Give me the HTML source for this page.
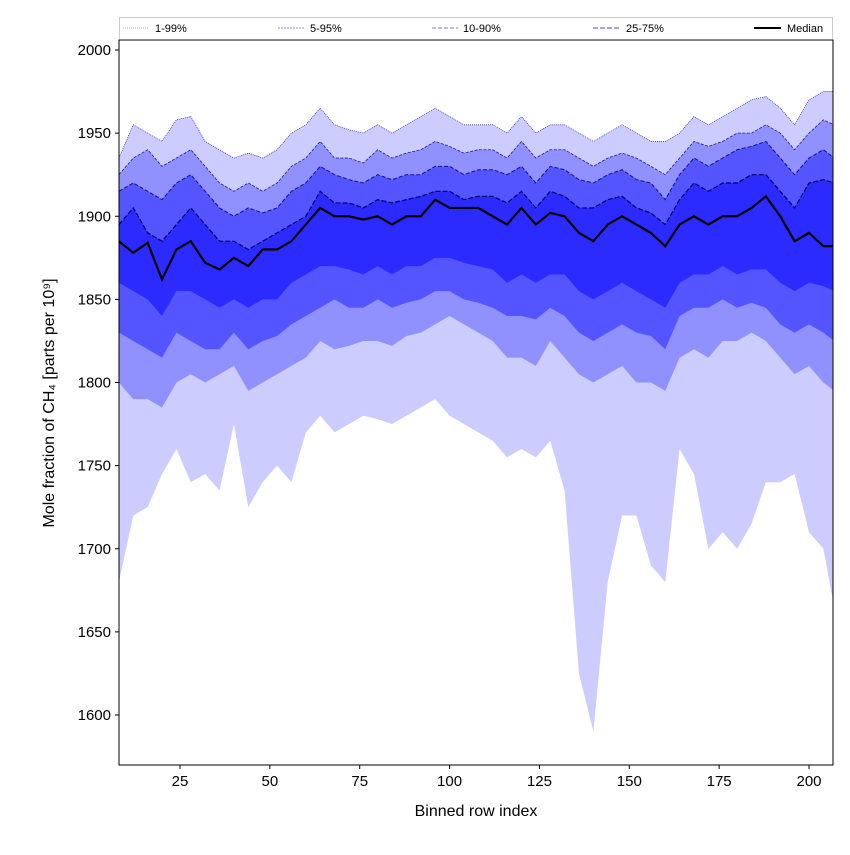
<!DOCTYPE html>
<html><head><meta charset="utf-8"><style>
body{margin:0;background:#fff;font-family:"Liberation Sans","DejaVu Sans",sans-serif}
</style></head><body>
<svg id="chart" width="850" height="850" xmlns="http://www.w3.org/2000/svg" font-family="Liberation Sans, DejaVu Sans, sans-serif">
<g id="plot"></g>
</svg>
<script>
const xs=[8,12,16,20,24,28,32,36,40,44,48,52,56,60,64,68,72,76,80,84,88,92,96,100,104,108,112,116,120,124,128,132,136,140,144,148,152,156,160,164,168,172,176,180,184,188,192,196,200,204,207];
const p99=[1935,1955,1950,1945,1958,1960,1945,1940,1935,1938,1935,1940,1950,1955,1965,1955,1952,1950,1955,1950,1955,1960,1965,1960,1955,1955,1955,1950,1960,1950,1955,1955,1950,1945,1950,1955,1950,1945,1945,1950,1960,1955,1960,1965,1970,1972,1965,1955,1970,1975,1975];
const p95=[1925,1935,1940,1930,1935,1940,1930,1920,1915,1920,1915,1920,1930,1935,1945,1935,1935,1932,1940,1935,1938,1940,1945,1942,1938,1940,1940,1935,1945,1935,1940,1940,1935,1930,1935,1938,1935,1930,1925,1935,1945,1942,1945,1950,1950,1955,1950,1940,1950,1958,1955];
const p90=[1915,1920,1915,1910,1920,1925,1915,1905,1900,1905,1902,1905,1915,1920,1930,1925,1922,1920,1925,1922,1925,1925,1930,1930,1925,1928,1928,1925,1930,1920,1930,1928,1922,1920,1925,1928,1922,1920,1910,1925,1935,1930,1935,1940,1942,1945,1935,1925,1935,1940,1935];
const p75=[1895,1905,1890,1885,1895,1905,1895,1885,1885,1880,1885,1890,1895,1900,1915,1908,1908,1905,1910,1908,1910,1912,1915,1915,1910,1912,1912,1908,1915,1905,1915,1912,1905,1905,1910,1912,1905,1902,1895,1910,1920,1915,1920,1920,1925,1925,1915,1905,1920,1922,1920];
const p50=[1885,1878,1884,1862,1880,1885,1872,1868,1875,1870,1880,1880,1885,1895,1905,1900,1900,1898,1900,1895,1900,1900,1910,1905,1905,1905,1900,1895,1905,1895,1902,1900,1890,1885,1895,1900,1895,1890,1882,1895,1900,1895,1900,1900,1905,1912,1900,1885,1890,1882,1882];
const p25=[1860,1855,1850,1840,1855,1855,1850,1845,1850,1845,1850,1850,1860,1865,1870,1870,1868,1865,1870,1865,1870,1870,1875,1875,1872,1870,1868,1860,1865,1860,1865,1865,1855,1850,1855,1860,1855,1850,1845,1860,1865,1865,1870,1865,1868,1868,1860,1855,1860,1858,1855];
const p10=[1830,1825,1820,1815,1830,1825,1820,1820,1830,1820,1825,1828,1835,1840,1845,1850,1845,1845,1850,1845,1848,1850,1855,1855,1850,1848,1845,1840,1840,1838,1845,1840,1830,1825,1830,1835,1830,1828,1820,1840,1845,1845,1850,1845,1848,1845,1835,1830,1835,1830,1825];
const p5=[1800,1790,1790,1785,1800,1805,1800,1805,1810,1795,1800,1805,1810,1815,1825,1820,1822,1825,1825,1822,1828,1830,1835,1840,1835,1830,1825,1815,1815,1810,1825,1815,1805,1800,1805,1810,1800,1800,1795,1815,1820,1815,1825,1825,1830,1825,1815,1805,1810,1800,1795];
const p1=[1680,1720,1725,1745,1760,1740,1745,1735,1775,1725,1740,1750,1740,1770,1780,1770,1775,1780,1778,1775,1780,1785,1790,1780,1775,1770,1765,1755,1760,1755,1765,1735,1625,1590,1680,1720,1720,1690,1680,1760,1745,1700,1710,1700,1715,1740,1740,1745,1710,1700,1665];
const yTicks=[1600,1650,1700,1750,1800,1850,1900,1950,2000];
const xTicks=[25,50,75,100,125,150,175,200];

const L=119,R=833,T=40,B=765;
const X=v=>180+(v-25)*(629/175);
const Y=v=>50+(2000-v)*1.6625;
const NS="http://www.w3.org/2000/svg";
const g=document.getElementById('plot');
function mk(t,a,p){const e=document.createElementNS(NS,t);for(const k in a)e.setAttribute(k,a[k]);(p||g).appendChild(e);return e;}
const clip=mk('clipPath',{id:'c'});mk('rect',{x:L,y:T,width:R-L,height:B-T},clip);
function band(lo,hi,col,name){
  let d='M'+xs.map((x,i)=>X(x)+','+Y(hi[i])).join('L');
  for(let i=xs.length-1;i>=0;i--)d+='L'+X(xs[i])+','+Y(lo[i]);
  const e=mk('path',{d:d+'Z',fill:col,'clip-path':'url(#c)'});
  
  
}
function line(arr,col,w,dash,name){
  const e=mk('path',{d:'M'+xs.map((x,i)=>X(x)+','+Y(arr[i])).join('L'),fill:'none',stroke:col,'stroke-width':w,'stroke-dasharray':dash,'clip-path':'url(#c)'});
  
  
}
band(p1,p99,'#ccccff','band-1-99');
band(p5,p95,'#9090ff','band-5-95');
band(p10,p90,'#5555ff','band-10-90');
band(p25,p75,'#2b2bff','band-25-75');
line(p99,'#3333cc',0.8,'1,1','line-p99');
line(p95,'#1a1aa0',0.8,'3,1.5','line-p95');
line(p90,'#10108a',1,'4,2','line-p90');
line(p75,'#000066',1.2,'5,2','line-p75');
line(p50,'#000',2.2,'','median-line');
// axes frame
const fr=mk('rect',{x:L,y:T,width:R-L,height:B-T,fill:'none',stroke:'#000','stroke-width':1});

yTicks.forEach(v=>{
  mk('line',{x1:L-4,x2:L,y1:Y(v),y2:Y(v),stroke:'#000'});
  const t=mk('text',{x:L-8,y:Y(v)+5,'text-anchor':'end','font-size':15});t.textContent=v;
  
});
xTicks.forEach(v=>{
  mk('line',{x1:X(v),x2:X(v),y1:B,y2:B+4,stroke:'#000'});
  const t=mk('text',{x:X(v),y:B+21,'text-anchor':'middle','font-size':15});t.textContent=v;
  
});
</script>
<svg style="position:absolute;left:0;top:0" width="850" height="850" xmlns="http://www.w3.org/2000/svg" font-family="Liberation Sans, DejaVu Sans, sans-serif">
<text x="476" y="816" text-anchor="middle" font-size="16">Binned row index</text>
<text transform="translate(54,403) rotate(-90)" text-anchor="middle" font-size="16">Mole fraction of CH₄ [parts per 10⁹]</text>
<g>
<rect x="119.5" y="17.5" width="713" height="22" fill="#fff" stroke="#ccc"/>
<line x1="119" y1="39.5" x2="833" y2="39.5" stroke="#888"/>
<g><line x1="123" x2="149" y1="28" y2="28" stroke="#aaaaee" stroke-dasharray="1,1"/><text x="155" y="32" font-size="11">1-99%</text></g>
<g><line x1="278" x2="304" y1="28" y2="28" stroke="#8888dd" stroke-dasharray="2,1"/><text x="310" y="32" font-size="11">5-95%</text></g>
<g><line x1="432" x2="458" y1="28" y2="28" stroke="#7777dd" stroke-dasharray="4,2"/><text x="463" y="32" font-size="11">10-90%</text></g>
<g><line x1="593" x2="620" y1="28" y2="28" stroke="#4444ee" stroke-dasharray="5,2"/><text x="626" y="32" font-size="11">25-75%</text></g>
<g><line x1="754" x2="781" y1="28" y2="28" stroke="#000" stroke-width="2"/><text x="787" y="32" font-size="11">Median</text></g>
</g>
</svg>
</body></html>
